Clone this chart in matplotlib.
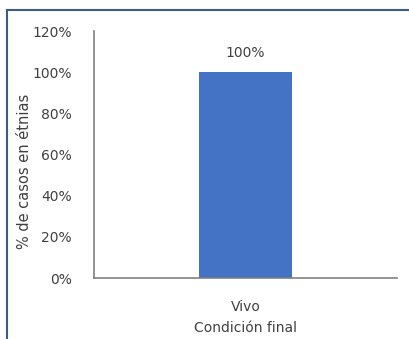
import matplotlib
matplotlib.use("Agg")
import matplotlib.pyplot as plt
from matplotlib.lines import Line2D

categories = ["Vivo"]
values = [100]
bar_labels = ["100%"]
yticks = [0, 20, 40, 60, 80, 100, 120]
ytick_labels = ["0%", "20%", "40%", "60%", "80%", "100%", "120%"]

W, H = 409, 339
fig = plt.figure(figsize=(W / 100, H / 100), dpi=100)
plt.rcParams["font.family"] = "DejaVu Sans"
fs = 10
tc = "#404040"

ax = fig.add_axes([94 / W, 1 - 278 / H, (397 - 94) / W, (278 - 31) / H])
ax.bar(categories, values, width=0.31, color="#4472C4")
ax.set_xlim(-0.5, 0.5)
ax.set_ylim(0, 120)
ax.set_yticks(yticks)
ax.set_yticklabels(ytick_labels, fontsize=fs, color=tc)
ax.tick_params(axis="y", length=0, pad=16)
ax.tick_params(axis="x", length=0, labelsize=fs, labelcolor=tc, pad=16)
for i, v in enumerate(values):
    ax.text(i, v + 6, bar_labels[i], ha="center", va="bottom", fontsize=fs, color=tc)

ax.spines["top"].set_visible(False)
ax.spines["right"].set_visible(False)
for s in ("left", "bottom"):
    ax.spines[s].set_color("#808080")
    ax.spines[s].set_linewidth(1.2)

ax.set_ylabel("% de casos en étnias", fontsize=fs + 0.5, color=tc)
ax.yaxis.set_label_coords(-0.205, 0.433)
ax.set_xlabel("Condición final", fontsize=fs, color=tc, labelpad=5)

# outer frame lines (top and left)
fig.add_artist(Line2D([7 / W, 1], [1 - 10 / H, 1 - 10 / H], color="#3B5B8C", linewidth=1.5))
fig.add_artist(Line2D([7 / W, 7 / W], [0, 1 - 10 / H], color="#3B5B8C", linewidth=1.5))

fig.savefig("out.png", dpi=100)
